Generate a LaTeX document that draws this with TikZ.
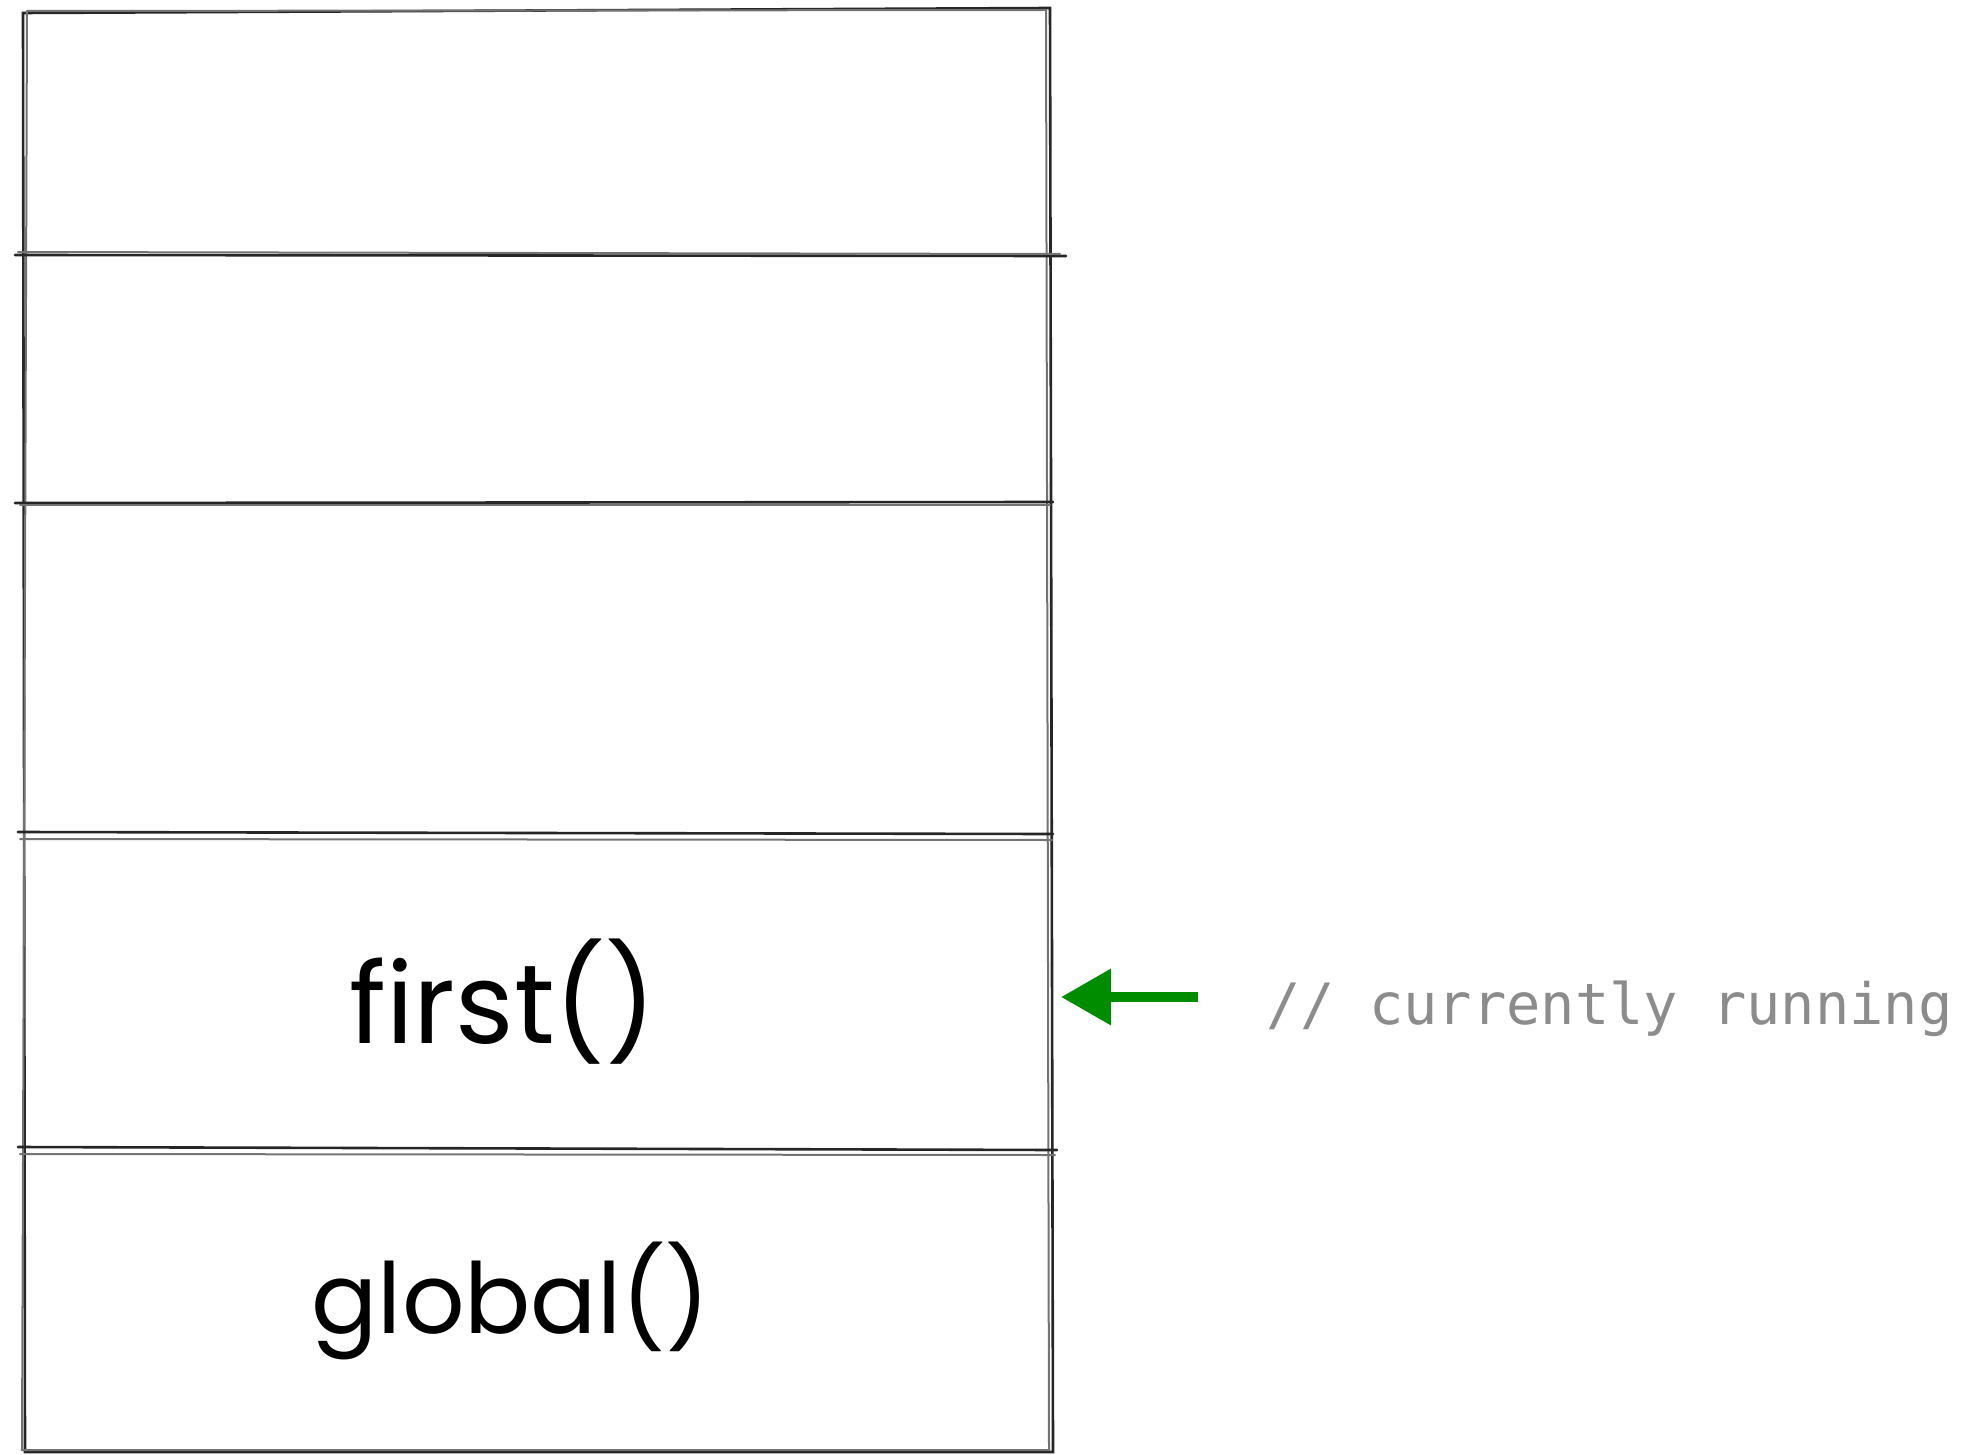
\documentclass[tikz,border=0pt]{standalone}
\usepackage{fontspec}
\usetikzlibrary{arrows.meta}
\newfontfamily\handfont{Poppins}
\newfontfamily\codefont{DejaVu Sans Mono}
\definecolor{codegray}{RGB}{140,140,140}
\definecolor{arrowgreen}{RGB}{0,140,0}
\tikzset{
  sketch/.style={draw=black!85, line width=2.6pt, line cap=round},
  sketchb/.style={draw=black!55, line width=2pt, line cap=round},
  hand/.style={font=\handfont\fontsize{112}{120}\selectfont, inner sep=0pt, anchor=base},
  handsmall/.style={hand, font=\handfont\fontsize{98}{110}\selectfont},
  code/.style={font=\codefont\fontsize{57}{64}\selectfont, text=codegray, inner sep=0pt, anchor=base west},
  pointer/.style={draw=arrowgreen, line width=10pt, -{Triangle[length=50pt,width=54pt]}}
}
\begin{document}
\begin{tikzpicture}[x=1pt,y=-1pt]
\useasboundingbox (0,0) rectangle (1977,1455);
% outer frame, drawn twice for the sketch look
\draw[sketch] (23,13) -- (1050,8) -- (1053,1452) -- (25,1452) -- cycle;
\draw[sketchb] (27,11) -- (1046,10) -- (1049,1450) -- (22,1450) -- (27,11);
% dividers
\draw[sketch] (15,255) -- (1066,256);
\draw[sketchb] (18,252) -- (1060,254);
\draw[sketch] (15,503) -- (1053,502);
\draw[sketchb] (20,505) -- (1050,505);
\draw[sketch] (18,832) -- (1053,834);
\draw[sketchb] (20,839) -- (1052,840);
\draw[sketch] (18,1147) -- (1057,1150);
\draw[sketchb] (20,1154) -- (1055,1155);
% labels
\node[hand] (first) at (503,1043) {first()};
\node[handsmall] (global) at (511,1333) {global()};
% pointer
\coordinate (arrowstart) at (1198,997);
\coordinate (arrowtip) at (1061,997);
\draw[pointer] (arrowstart) -- (arrowtip);
\node[code] (comment) at (1266,1024) {// currently running};
\end{tikzpicture}
\end{document}
